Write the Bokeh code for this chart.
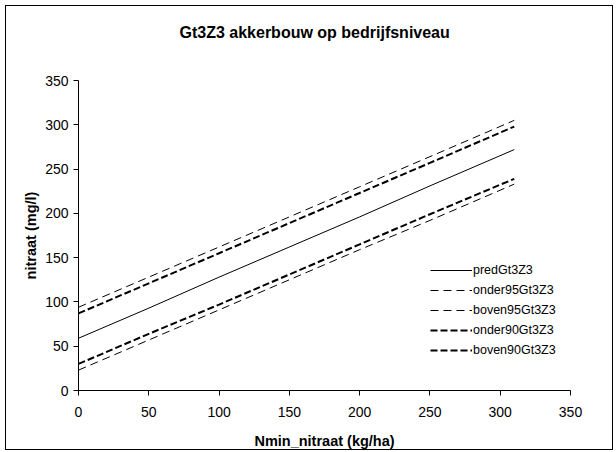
from bokeh.plotting import figure
from bokeh.models import Legend, LegendItem, Title, Range1d
from bokeh.embed import file_html
from bokeh.resources import INLINE

# ---- data ----
x_nmin = [0, 50, 100, 150, 200, 250, 310]
pred = [59, 93, 128, 162, 196, 231, 272]
onder95 = [23, 57, 91, 125, 159, 192, 233]
boven95 = [94, 128, 162, 196, 230, 264, 305]
onder90 = [30, 64, 97, 131, 165, 199, 239]
boven90 = [87, 121, 155, 189, 223, 257, 298]

x_ticks = [0, 50, 100, 150, 200, 250, 300, 350]
y_ticks = [0, 50, 100, 150, 200, 250, 300, 350]

FONT = "Liberation Sans"

W, H = 608, 445
p = figure(width=W, height=H, output_backend="svg", toolbar_location=None,
           x_range=Range1d(0, 350), y_range=Range1d(0, 350),
           min_border_left=72, min_border_right=44,
           min_border_top=74, min_border_bottom=61)
p.styles = {"border": "1px solid black", "margin-left": "5px", "margin-top": "5px"}
p.outline_line_color = None
p.xgrid.visible = False
p.ygrid.visible = False
p.background_fill_color = "white"
p.border_fill_color = "white"

p.title.text = "Gt3Z3 akkerbouw op bedrijfsniveau"
p.title.align = "left"
p.title.offset = 101
p.title.vertical_align = "bottom"
p.title.standoff = 0
p.title.text_font = FONT
p.title.text_font_size = "16px"
p.title.text_font_style = "bold"
p.title.text_color = "black"

# empty spacer between title and plot area
spacer = Title(text=" ", text_font_size="1px", standoff=37)
p.add_layout(spacer, "above")

for ax in (p.xaxis[0], p.yaxis[0]):
    ax.major_label_text_font = FONT
    ax.major_label_text_font_size = "14px"
    ax.major_label_text_color = "black"
    ax.axis_label_text_font = FONT
    ax.axis_label_text_font_size = "14.5px"
    ax.axis_label_text_font_style = "bold"
    ax.axis_label_text_color = "black"
    ax.axis_line_color = "black"
    ax.major_tick_line_color = "black"
    ax.major_tick_in = 0
    ax.major_tick_out = 5
    ax.minor_tick_line_color = None

p.xaxis.ticker = x_ticks
p.yaxis.ticker = y_ticks
p.xaxis.axis_label = "Nmin_nitraat (kg/ha)"
p.yaxis.axis_label = "nitraat (mg/l)"
p.xaxis.major_label_standoff = 11
p.yaxis.major_label_standoff = 5
p.xaxis.axis_label_standoff = 13
p.yaxis.axis_label_standoff = 3

r_pred = p.line(x_nmin, pred, line_color="black", line_width=1)
r_o95 = p.line(x_nmin, onder95, line_color="black", line_width=1, line_dash="8 5")
r_b95 = p.line(x_nmin, boven95, line_color="black", line_width=1, line_dash="8 5")
r_o90 = p.line(x_nmin, onder90, line_color="black", line_width=2, line_dash="7 3")
r_b90 = p.line(x_nmin, boven90, line_color="black", line_width=2, line_dash="7 3")

legend = Legend(items=[
    LegendItem(label="predGt3Z3", renderers=[r_pred]),
    LegendItem(label="onder95Gt3Z3", renderers=[r_o95]),
    LegendItem(label="boven95Gt3Z3", renderers=[r_b95]),
    LegendItem(label="onder90Gt3Z3", renderers=[r_o90]),
    LegendItem(label="boven90Gt3Z3", renderers=[r_b90]),
], location=(352, 33))
legend.border_line_color = None
legend.background_fill_alpha = 0
legend.padding = 0
legend.margin = 0
legend.spacing = 6
legend.glyph_width = 42
legend.glyph_height = 14
legend.label_height = 13
legend.label_standoff = 1
legend.label_text_font = FONT
legend.label_text_font_size = "12.5px"
legend.label_text_color = "black"
p.add_layout(legend, "center")

open("out.html", "w").write(file_html(p, INLINE))
